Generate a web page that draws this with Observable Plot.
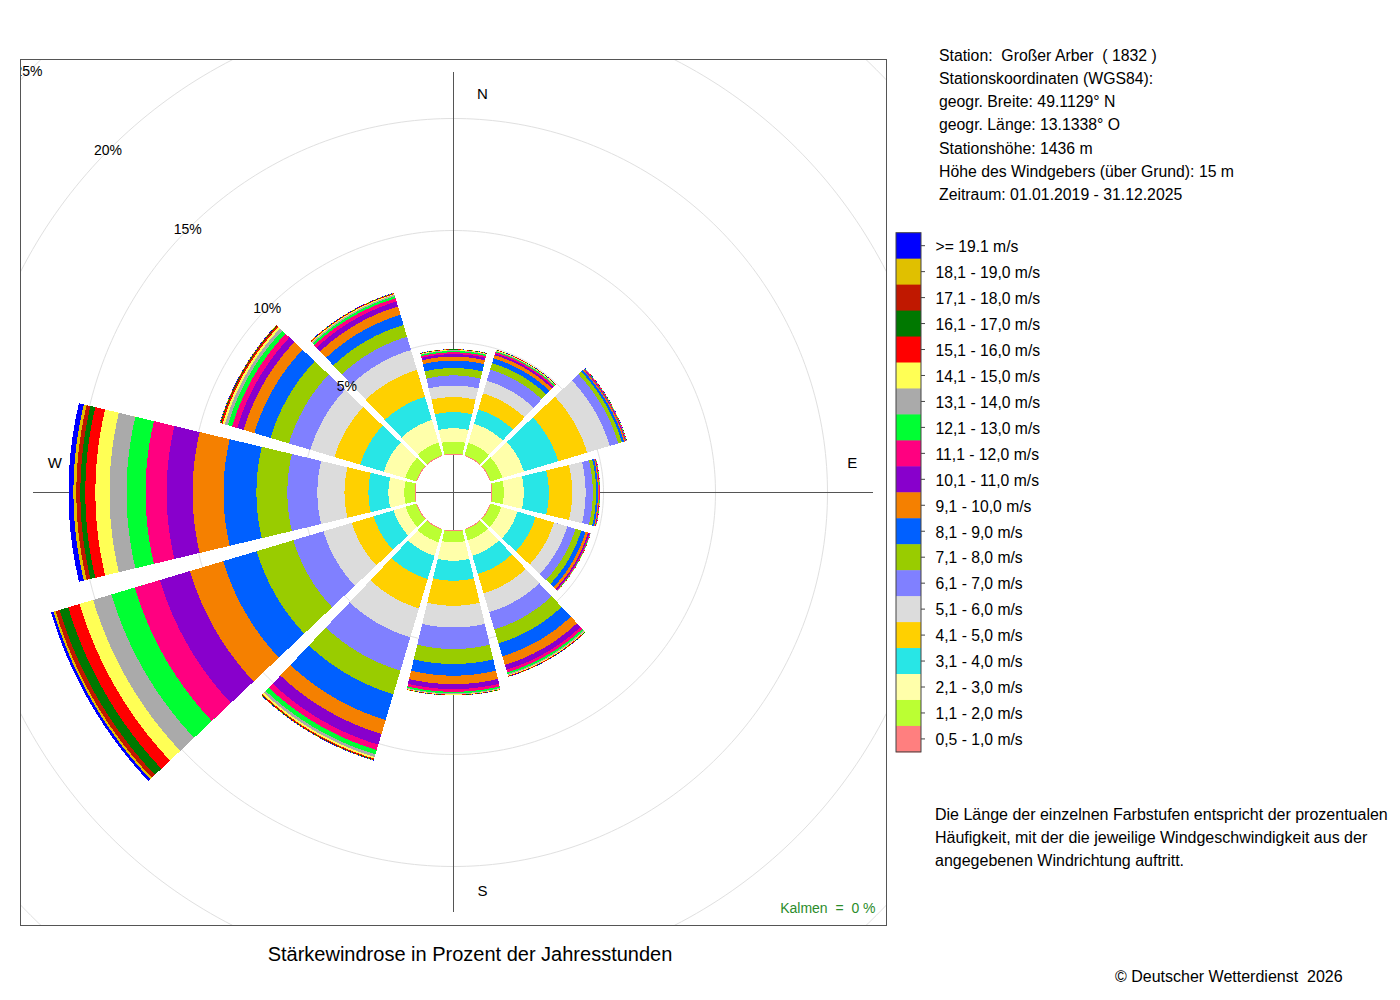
<!DOCTYPE html>
<html>
<head>
<meta charset="utf-8">
<script src="https://cdn.jsdelivr.net/npm/d3@7"></script>
<script src="https://cdn.jsdelivr.net/npm/@observablehq/plot@0.6"></script>
<style>
  body { margin: 0; background: #fff; }
  #wrap { position: relative; width: 1400px; height: 1000px; font-family: "Liberation Sans", Arial, sans-serif; }
  #wrap > svg { position: absolute; left: 0; top: 0; }
  #overlay text { white-space: pre; }
</style>
</head>
<body>
<div id="wrap"></div>
<script>
// ---------- data ----------
const speedClasses = [
  "0,5 - 1,0 m/s", "1,1 - 2,0 m/s", "2,1 - 3,0 m/s", "3,1 - 4,0 m/s", "4,1 - 5,0 m/s",
  "5,1 - 6,0 m/s", "6,1 - 7,0 m/s", "7,1 - 8,0 m/s", "8,1 - 9,0 m/s", "9,1 - 10,0 m/s",
  "10,1 - 11,0 m/s", "11,1 - 12,0 m/s", "12,1 - 13,0 m/s", "13,1 - 14,0 m/s", "14,1 - 15,0 m/s",
  "15,1 - 16,0 m/s", "16,1 - 17,0 m/s", "17,1 - 18,0 m/s", "18,1 - 19,0 m/s", ">= 19.1 m/s"
];
const classColors = [
  "#ff7f7f", "#bbff33", "#ffffaa", "#28e6e6", "#ffd000",
  "#dcdcdc", "#8080ff", "#99cc00", "#0060ff", "#f58000",
  "#8800cc", "#ff0080", "#00ff33", "#aaaaaa", "#ffff55",
  "#ff0000", "#007800", "#c01800", "#e0c000", "#0000ff"
];
const directionDeg = [0, 30, 60, 90, 120, 150, 180, 210, 240, 270, 300, 330];

// frequency (% of hours) per speed class, lowest class first
const freq000 = [0.04, 0.54, 0.59, 0.72, 0.67, 0.52, 0.45, 0.33, 0.33, 0.18, 0.11, 0.08, 0.06, 0.03, 0.02, 0.01, 0.01, 0.005, 0.005, 0.005];
const freq030 = [0.04, 0.57, 0.89, 0.67, 0.75, 0.59, 0.52, 0.30, 0.22, 0.15, 0.08, 0.06, 0.04, 0.03, 0.02, 0.01, 0.01, 0.005, 0.005, 0.005];
const freq060 = [0.04, 0.54, 1.00, 1.60, 1.35, 1.05, 0.40, 0.17, 0.10, 0.05, 0.03, 0.02, 0.01, 0.01, 0.005, 0.005, 0.005, 0.0, 0.0, 0.005];
const freq090 = [0.04, 0.51, 0.89, 1.12, 1.04, 0.60, 0.32, 0.15, 0.08, 0.05, 0.02, 0.01, 0.01, 0.005, 0.005, 0.005, 0.0, 0.0, 0.0, 0.0];
const freq120 = [0.04, 0.49, 0.75, 0.85, 0.85, 0.62, 0.38, 0.27, 0.20, 0.12, 0.06, 0.03, 0.02, 0.01, 0.005, 0.005, 0.0, 0.0, 0.0, 0.0];
const freq150 = [0.04, 0.49, 0.72, 0.85, 0.90, 0.88, 0.80, 0.65, 0.60, 0.40, 0.23, 0.12, 0.08, 0.05, 0.03, 0.02, 0.01, 0.01, 0.005, 0.005];
const freq180 = [0.04, 0.49, 0.82, 0.89, 1.12, 0.97, 0.96, 0.67, 0.52, 0.38, 0.22, 0.12, 0.07, 0.04, 0.02, 0.01, 0.01, 0.005, 0.005, 0.005];
const freq210 = [0.04, 0.58, 0.63, 1.08, 1.37, 1.35, 1.55, 1.10, 1.20, 0.65, 0.50, 0.25, 0.20, 0.12, 0.08, 0.04, 0.02, 0.01, 0.01, 0.01];
const freq240 = [0.04, 0.49, 0.56, 0.93, 1.02, 1.32, 1.40, 1.71, 1.56, 1.55, 1.40, 1.17, 1.09, 0.85, 0.63, 0.53, 0.40, 0.19, 0.09, 0.12];
const freq270 = [0.04, 0.46, 0.71, 0.89, 1.07, 1.21, 1.34, 1.38, 1.47, 1.38, 1.16, 0.94, 0.85, 0.76, 0.63, 0.45, 0.22, 0.18, 0.13, 0.22];
const freq300 = [0.04, 0.51, 1.00, 1.10, 1.20, 1.12, 1.00, 0.86, 0.75, 0.50, 0.30, 0.24, 0.20, 0.14, 0.10, 0.06, 0.03, 0.02, 0.01, 0.01];
const freq330 = [0.04, 0.59, 1.05, 1.08, 1.25, 0.93, 0.62, 0.55, 0.47, 0.39, 0.23, 0.15, 0.10, 0.06, 0.04, 0.02, 0.01, 0.01, 0.01, 0.01];
const freqByDirection = [freq000, freq030, freq060, freq090, freq120, freq150, freq180, freq210, freq240, freq270, freq300, freq330];

const ringPercents = [5, 10, 15, 20, 25];
const compassLabels = [{label: "N", deg: 0}, {label: "E", deg: 90}, {label: "S", deg: 180}, {label: "W", deg: 270}];
const kalmenText = "Kalmen\u00a0\u00a0=\u00a0\u00a00\u00a0%";

const stationLines = [
  "Station:  Großer Arber  ( 1832 )",
  "Stationskoordinaten (WGS84):",
  "geogr. Breite: 49.1129° N",
  "geogr. Länge: 13.1338° O",
  "Stationshöhe: 1436 m",
  "Höhe des Windgebers (über Grund): 15 m",
  "Zeitraum: 01.01.2019 - 31.12.2025"
];
const noteLines = [
  "Die Länge der einzelnen Farbstufen entspricht der prozentualen",
  "Häufigkeit, mit der die jeweilige Windgeschwindigkeit aus der",
  "angegebenen Windrichtung auftritt."
];
const titleText = "Stärkewindrose in Prozent der Jahresstunden";
const copyrightText = "© Deutscher Wetterdienst  2026";

// ---------- geometry in data units (percent) ----------
const pxPerPct = 22.4;
const hole = 38 / pxPerPct;          // inner empty circle, in % units
const extent = 433 / pxPerPct;       // half-size of the square frame
const axisLen = 420 / pxPerPct;
const halfWidth = 13.4 * Math.PI / 180;
const rad = d => d * Math.PI / 180;
const labelAngle = rad(45.3);

// wedge polygons: for each direction, cumulative wedges drawn from largest to smallest
const wedgePts = [];
directionDeg.forEach((deg, i) => {
  const f = freqByDirection[i];
  const cum = d3.cumsum(f);
  for (let k = f.length - 1; k >= 0; k--) {
    const r1 = hole + cum[k];
    const id = deg + "-" + k;
    const n = 60;
    const c = rad(deg);
    for (let j = 0; j <= n; j++) {
      const a = c - halfWidth + 2 * halfWidth * j / n;
      wedgePts.push({id, cls: speedClasses[k], x: r1 * Math.sin(a), y: r1 * Math.cos(a)});
    }
    for (let j = n; j >= 0; j--) {
      const a = c - halfWidth + 2 * halfWidth * j / n;
      wedgePts.push({id, cls: speedClasses[k], x: hole * Math.sin(a), y: hole * Math.cos(a)});
    }
  }
});

// grid circles
const circlePts = [];
ringPercents.forEach(p => {
  const r = hole + p;
  for (let j = 0; j <= 360; j++) {
    const a = rad(j);
    circlePts.push({ring: p, x: r * Math.sin(a), y: r * Math.cos(a)});
  }
});

const compassR = 17.8, compassOff = 1.29;

const plot = Plot.plot({
  width: 1400,
  height: 1000,
  marginLeft: 20,
  marginRight: 514,
  marginTop: 59,
  marginBottom: 75,
  x: {domain: [-extent, extent], axis: null},
  y: {domain: [-extent, extent], axis: null},
  color: {domain: speedClasses, range: classColors},
  style: {fontFamily: "'Liberation Sans', Arial, sans-serif", background: "transparent", overflow: "visible"},
  marks: [
    Plot.line(circlePts, {x: "x", y: "y", z: "ring", stroke: "#e0e0e0", strokeWidth: 1, clip: true}),
    Plot.ruleX([0], {y1: -axisLen, y2: axisLen, stroke: "#555", strokeWidth: 1}),
    Plot.ruleY([0], {x1: -axisLen, x2: axisLen, stroke: "#555", strokeWidth: 1}),
    Plot.line(wedgePts, {x: "x", y: "y", z: "id", fill: "cls", stroke: "none", curve: "linear", shapeRendering: "crispEdges"}),
    Plot.text(ringPercents, {
      x: p => -(hole + p) * Math.sin(labelAngle),
      y: p => (hole + p) * Math.cos(labelAngle),
      text: p => p + "%",
      fontSize: 14, fill: "#000", clip: true
    }),
    Plot.text(compassLabels, {
      x: d => compassR * Math.sin(rad(d.deg)) + compassOff * Math.abs(Math.cos(rad(d.deg))),
      y: d => compassR * Math.cos(rad(d.deg)) + compassOff * Math.abs(Math.sin(rad(d.deg))),
      text: "label",
      fontSize: 15, fill: "#000"
    }),
    Plot.text([kalmenText], {
      frameAnchor: "bottom-right", textAnchor: "end", lineAnchor: "middle",
      dx: -11, dy: -17, fontSize: 14, fill: "#2b8c2b"
    }),
    Plot.frame({stroke: "#555", strokeWidth: 1})
  ]
});

const wrap = document.getElementById("wrap");
wrap.appendChild(plot);

// ---------- overlay: station info, legend, notes, title ----------
const svg = d3.select(wrap).append("svg")
  .attr("id", "overlay")
  .attr("width", 1400).attr("height", 1000)
  .style("font-family", "'Liberation Sans', Arial, sans-serif");

svg.selectAll("text.info").data(stationLines).join("text")
  .attr("class", "info")
  .attr("x", 939).attr("y", (d, i) => 55 + i * 23.3)
  .attr("dy", "0.35em").attr("font-size", 15.8).attr("fill", "#000")
  .text(d => d);

const legTop = 232.7, legStep = 25.96, legX = 896, legW = 25;
const legendOrder = speedClasses.map((d, i) => i).reverse();
svg.selectAll("rect.sw").data(legendOrder).join("rect")
  .attr("class", "sw")
  .attr("x", legX).attr("y", (d, i) => legTop + i * legStep)
  .attr("width", legW).attr("height", legStep + 0.5)
  .attr("fill", d => classColors[d]);
svg.append("rect")
  .attr("x", legX).attr("y", legTop).attr("width", legW).attr("height", legStep * 20)
  .attr("fill", "none").attr("stroke", "#444").attr("stroke-width", 1);
svg.selectAll("line.tk").data(legendOrder).join("line")
  .attr("class", "tk")
  .attr("x1", legX + legW).attr("x2", legX + legW + 4)
  .attr("y1", (d, i) => legTop + (i + 0.5) * legStep)
  .attr("y2", (d, i) => legTop + (i + 0.5) * legStep)
  .attr("stroke", "#444");
svg.selectAll("text.lg").data(legendOrder).join("text")
  .attr("class", "lg")
  .attr("x", 935.5).attr("y", (d, i) => legTop + (i + 0.5) * legStep + 0.8)
  .attr("dy", "0.35em").attr("font-size", 15.7).attr("fill", "#000")
  .text(d => speedClasses[d]);

svg.selectAll("text.note").data(noteLines).join("text")
  .attr("class", "note")
  .attr("x", 935).attr("y", (d, i) => 814 + i * 23)
  .attr("dy", "0.35em").attr("font-size", 16).attr("fill", "#000")
  .text(d => d);

svg.append("text")
  .attr("x", 470).attr("y", 954).attr("dy", "0.35em")
  .attr("text-anchor", "middle").attr("font-size", 20).attr("fill", "#000")
  .text(titleText);

svg.append("text")
  .attr("x", 1115).attr("y", 976).attr("dy", "0.35em")
  .attr("font-size", 16).attr("fill", "#000")
  .text(copyrightText);
</script>
</body>
</html>
